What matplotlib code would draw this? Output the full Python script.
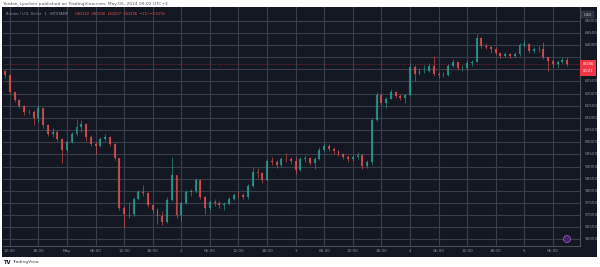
import matplotlib
matplotlib.use("Agg")
import matplotlib.pyplot as plt
from matplotlib.patches import Rectangle, Ellipse

# ---- data: hourly candles, hours relative to 1 May 00:00 (UTC+3) ----
hours = list(range(-13, 106))
first_open = 62930
close = [62770, 62070, 61740, 61490, 61240, 61260, 61000, 61410, 60710, 60340, 60420, 60130, 59680,
         60010, 60340, 60630, 60750, 60210, 59930, 59840, 60130, 60210, 59930, 59350, 57290,
         57050, 57060, 57660, 57950, 57910, 57420, 57210, 56960, 56720, 57620, 58650, 57000,
         57500, 57950, 57990, 58450, 57750, 57290, 57540, 57500, 57420, 57460, 57660, 57830,
         57810, 57750, 58200, 58770, 58730, 58450, 59230, 59190, 59060, 59310, 59290, 59230,
         58860, 59310, 59350, 59150, 59310, 59680, 59840, 59720, 59640, 59520, 59390, 59310,
         59390, 59470, 59020, 59190, 60910, 61940, 61610, 61780, 62070, 61900, 61820, 61940,
         63100, 62810, 62930, 62950, 63140, 62810, 62770, 62780, 63140, 63300, 63050, 63060,
         63260, 63300, 64290, 63960, 63920, 63840, 63670, 63550, 63630, 63550, 63630, 64000,
         64040, 63750, 63840, 63830, 63510, 63340, 63220, 63300, 63380, 63206]
high = [62970, 62770, 62070, 61780, 61530, 61370, 61330, 61530, 61410, 60750, 60590, 60500, 60170,
        60090, 60420, 60960, 60910, 60790, 60300, 60010, 60210, 60340, 60260, 59970, 59350,
        57380, 57540, 57750, 58030, 58240, 57950, 57460, 57290, 57170, 57750, 59390, 58650,
        57580, 58030, 58080, 58530, 58490, 57790, 57620, 57660, 57580, 57540, 57750, 57910,
        57990, 57910, 58280, 58980, 58940, 58770, 59310, 59390, 59270, 59390, 59560, 59390,
        59390, 59390, 59470, 59390, 59390, 59800, 59970, 59930, 59800, 59680, 59560, 59470,
        59470, 59600, 59520, 59270, 60990, 62070, 62030, 61860, 62190, 62110, 61980, 61980,
        63260, 63180, 63050, 63180, 63260, 63550, 62890, 62890, 63220, 63420, 63300, 63180,
        63380, 63380, 64450, 64330, 64080, 63960, 63920, 63710, 63710, 63670, 63710, 64080,
        64210, 64080, 63920, 63960, 64120, 63510, 63420, 63380, 63510, 63510]
low = [62640, 61980, 61650, 61410, 61120, 61160, 60710, 60830, 60590, 60260, 60210, 60050, 59150,
       59600, 59970, 60260, 60420, 60050, 59840, 59510, 59800, 60050, 59840, 59270, 57210,
       56510, 56880, 56960, 57620, 57790, 57330, 57090, 56630, 56590, 56680, 57580, 56880,
       56760, 57460, 57790, 57910, 57660, 57050, 57210, 57380, 57290, 57210, 57420, 57620,
       57700, 57660, 57660, 58160, 58530, 58320, 58400, 59060, 58940, 58980, 59190, 59100,
       58690, 58820, 59190, 59060, 58900, 59270, 59640, 59640, 59520, 59430, 59310, 59190,
       59230, 59310, 58900, 58940, 59060, 60870, 61530, 61410, 61780, 61820, 61740, 61610,
       61900, 62520, 62770, 62850, 62890, 62720, 62640, 62680, 62720, 63100, 62970, 62930,
       62970, 63140, 63300, 63880, 63840, 63670, 63590, 63470, 63510, 63470, 63510, 63550,
       63920, 63670, 63670, 63710, 63420, 62930, 63100, 63050, 63260, 63140]

price_ticks = list(range(56000, 65001, 500))
time_ticks = [-12, -6, 0, 6, 12, 18, 24, 30, 36, 42, 48, 54, 60, 66, 72, 78, 84, 90, 96, 102]
time_labels = ["12:00", "18:00", "May", "06:00", "12:00", "18:00", "2", "06:00", "12:00", "18:00",
               "3", "06:00", "12:00", "18:00", "4", "06:00", "12:00", "18:00", "5", "06:00"]
last_price = 63206
header_symbol = "Bitcoin / U.S. Dollar · 1 · BITSTAMP"
header_ohlc = "O63222  H63236  L63207  C63206  −15 (−0.02%)"

# ---- styling ----
W, H = 600, 267
BG = "#131722"
GRID = "#3a3e4a"
UP = "#2a9d90"
DOWN = "#e04f4f"
TXT = "#8f929b"

def fx(px):
    return px / W

def fy(py):
    return 1 - py / H

fig = plt.figure(figsize=(6, 2.67), dpi=100, facecolor="white")
panel = Rectangle((fx(2), fy(257)), fx(597) - fx(2), fy(7) - fy(257),
                  transform=fig.transFigure, facecolor=BG, edgecolor="none", zorder=-5)
fig.patches.append(panel)

ax = fig.add_axes([fx(3), fy(246), fx(580) - fx(3), fy(7) - fy(246)])
ax.set_zorder(1)
ax.set_facecolor(BG)
ax.set_xlim(-13.43, 107.7)
ax.set_ylim(55729, 65564)

opens = [first_open] + close[:-1]
for t, o, h, l, c in zip(hours, opens, high, low, close):
    col = UP if c >= o else DOWN
    ax.vlines(t, min(l, o, c), max(h, o, c), color=col, linewidth=0.5, alpha=0.85, zorder=3)
    ax.bar(t, max(abs(c - o), 12), bottom=min(o, c), width=0.4, color=col,
           edgecolor=col, linewidth=0.1, alpha=0.8, zorder=4)

ax.set_yticks(price_ticks)
ax.set_xticks(time_ticks)
ax.grid(True, color=GRID, linewidth=0.8)
ax.set_axisbelow(True)
ax.tick_params(length=0, labelleft=False, labelbottom=False)
for s in ["top", "left"]:
    ax.spines[s].set_visible(False)
ax.spines["right"].set_color("#4a4e59")
ax.spines["right"].set_linewidth(0.8)
ax.spines["bottom"].set_color("#4a4e59")
ax.spines["bottom"].set_linewidth(0.8)

# last price line
ax.axhline(last_price, color="#a8323b", linewidth=0.5, linestyle=(0, (1, 1.5)), zorder=2)

# price axis labels (skip the one hidden under the price tag)
for p in price_ticks:
    if abs(p - last_price) < 300:
        continue
    ax.text(1.008, p, f"{p}", transform=ax.get_yaxis_transform(), fontsize=3.0, color=TXT,
            ha="left", va="center", clip_on=False)

# time axis labels
for t, lab in zip(time_ticks, time_labels):
    ax.text(t, -0.022, lab, transform=ax.get_xaxis_transform(), fontsize=3.0, color=TXT,
            ha="center", va="center", clip_on=False)

# price tag
fig.patches.append(Rectangle((fx(580), fy(76)), fx(596) - fx(580), fy(60) - fy(76),
                             transform=fig.transFigure, facecolor="#f23645", edgecolor="none", zorder=5))
fig.text(fx(588), fy(64.3), f"{last_price}", fontsize=2.6, color="white", ha="center", va="center", zorder=6)
fig.text(fx(588), fy(71.5), "00:21", fontsize=2.6, color="white", ha="center", va="center", zorder=6)

# USD label
fig.patches.append(Rectangle((fx(581), fy(18)), fx(594) - fx(581), fy(11) - fy(18),
                             transform=fig.transFigure, facecolor="#2a2e39", edgecolor="#50535e",
                             linewidth=0.3, zorder=5))
fig.text(fx(587.5), fy(14.5), "USD", fontsize=2.8, color="#d1d4dc", ha="center", va="center", zorder=6)

# header inside chart
fig.text(fx(6), fy(14), header_symbol, fontsize=2.6, color=TXT, ha="left", va="center", zorder=6)
fig.text(fx(75), fy(14), header_ohlc, fontsize=2.6, color="#ef5350", ha="left", va="center", zorder=6)

# publisher line
fig.text(fx(3), fy(3.5), "Yordan_Lyochev published on TradingView.com, May 05, 2024 09:02 UTC+3",
         fontsize=3.2, color="#555555", ha="left", va="center")

# purple icon
fig.patches.append(Ellipse((fx(567), fy(239)), fx(7), 7 / H, transform=fig.transFigure,
                           facecolor="#3b2a5a", edgecolor="#9c4dcc", linewidth=0.6, zorder=6))

# TradingView logo
fig.text(fx(3), fy(262.5), "TV", fontsize=3.8, color="#131722", weight="bold", ha="left", va="center")
fig.text(fx(12), fy(262.5), "TradingView", fontsize=3.2, color="#444444", ha="left", va="center")

fig.savefig("out.png", dpi=100, facecolor="white")
